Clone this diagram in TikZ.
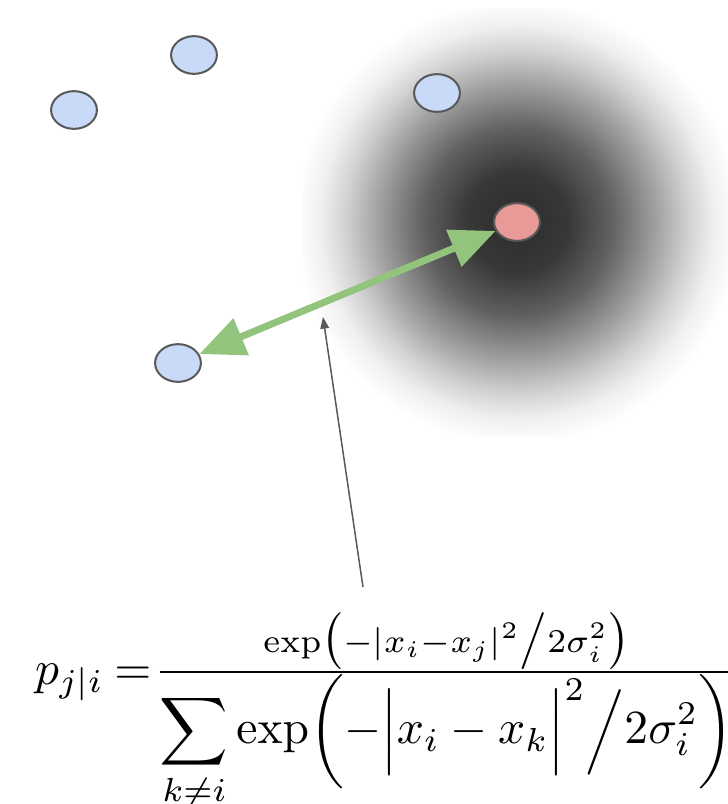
\documentclass[tikz,border=0pt]{standalone}
\usepackage{amsmath}
\usepackage{graphicx}
\usetikzlibrary{arrows.meta,shapes.geometric}
\definecolor{ptblue}{HTML}{C9DAF8}
\definecolor{ptred}{HTML}{EA9999}
\definecolor{ptedge}{HTML}{595959}
\definecolor{ptgreen}{HTML}{93C47D}
\pgfdeclareradialshading{glow}{\pgfpoint{0bp}{0bp}}{color(0bp)=(black!83); color(6bp)=(black!78); color(11bp)=(black!62); color(16bp)=(black!38); color(20bp)=(black!18); color(23bp)=(black!6); color(25bp)=(black!2); color(26bp)=(white); color(50bp)=(white)}
\begin{document}
\begin{tikzpicture}[x=0.1724pt,y=0.1724pt,
  pt/.style={ellipse, draw=ptedge, line width=0.35pt, minimum width=7.9pt, minimum height=6.5pt, inner sep=0pt},
  ptother/.style={pt, fill=ptblue},
  ptself/.style={pt, fill=ptred}]
\useasboundingbox (0,0) rectangle (728,804);
\fill[shading=glow] (303,368) rectangle (731,796);
\node[ptother] (xa) at (74,694) {};
\node[ptother] (xb) at (194,749) {};
\node[ptother] (xc) at (437,711) {};
\node[ptother] (xj) at (178,441) {};
\node[ptself] (xi) at (517,582) {};
\draw[ptgreen, line width=1.2pt, {Triangle[length=7.8pt,width=6.6pt]}-{Triangle[length=7.8pt,width=6.6pt]}] (xj) -- (xi);
\coordinate (tail) at (363,217);
\coordinate (head) at (323,487);
\draw[ptedge, line width=0.26pt, -{Triangle[length=2pt,width=1.5pt]}] (tail) -- (head);
\node[anchor=base west, inner sep=0pt] (pji) at (34,120) {\scalebox{0.82}{$p_{j|i}\mkern4mu{=}\mkern1mu\frac{\exp\bigl(-|x_i-x_j|^2\big/2\sigma_i^2\bigr)}{\displaystyle\sum_{k\neq i}\exp\biggl(-\Bigl|x_i-x_k\Bigr|^2\Big/2\sigma_i^2\biggr)}$}};
\end{tikzpicture}
\end{document}
